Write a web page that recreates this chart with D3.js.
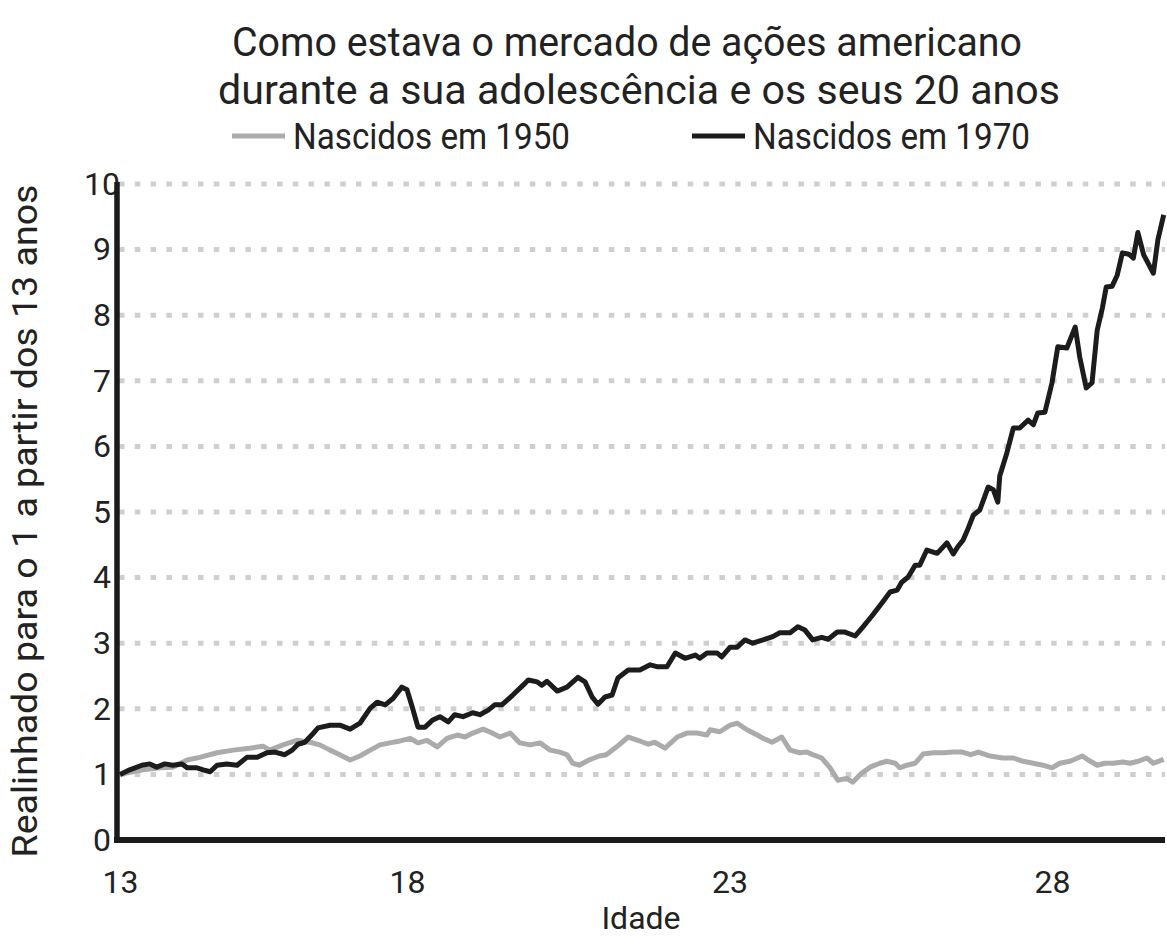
<!DOCTYPE html>
<html>
<head>
<meta charset="utf-8">
<script src="https://cdn.jsdelivr.net/npm/d3@7"></script>
<style>
  body { margin: 0; background: #fff; }
  text { font-family: Roboto, "Noto Sans", sans-serif; fill: #222; }
</style>
</head>
<body>
<div id="chart"></div>
<script>
// text
const titleLines = ["Como estava o mercado de ações americano", "durante a sua adolescência e os seus 20 anos"];
const seriesNames = ["Nascidos em 1950", "Nascidos em 1970"];
const xTitle = "Idade";
const yTitle = "Realinhado para o 1 a partir dos 13 anos";
const yTicks = [0, 1, 2, 3, 4, 5, 6, 7, 8, 9, 10];
const xTicks = [13, 18, 23, 28];

// born 1950 (grey)
const ages1950 = [13.00, 13.40, 13.70, 13.92, 14.17, 14.39, 14.69, 14.97, 15.26, 15.49, 15.61, 15.84, 16.08, 16.31,
  16.48, 16.66, 16.83, 17.01, 17.18, 17.36, 17.53, 17.70, 17.88, 18.05, 18.17, 18.31, 18.47, 18.62, 18.78, 18.90,
  19.02, 19.18, 19.32, 19.44, 19.60, 19.75, 19.91, 20.06, 20.22, 20.37, 20.48, 20.57, 20.67, 20.82, 20.98, 21.09,
  21.25, 21.43, 21.58, 21.74, 21.84, 22.00, 22.19, 22.34, 22.50, 22.65, 22.70, 22.85, 23.01, 23.12, 23.27, 23.43,
  23.52, 23.66, 23.81, 23.94, 24.09, 24.20, 24.29, 24.43, 24.56, 24.68, 24.82, 24.91, 25.05, 25.18, 25.33, 25.44,
  25.57, 25.64, 25.75, 25.88, 26.00, 26.16, 26.32, 26.47, 26.61, 26.74, 26.86, 27.04, 27.24, 27.40, 27.55, 27.71,
  27.86, 28.00, 28.12, 28.28, 28.47, 28.56, 28.70, 28.82, 28.95, 29.10, 29.21, 29.33, 29.47, 29.57, 29.73];
const values1950 = [1.00, 1.07, 1.10, 1.11, 1.22, 1.26, 1.33, 1.37, 1.40, 1.43, 1.37, 1.45, 1.52, 1.49,
  1.45, 1.37, 1.30, 1.22, 1.28, 1.37, 1.45, 1.48, 1.51, 1.55, 1.48, 1.52, 1.42, 1.55, 1.60, 1.57,
  1.63, 1.69, 1.63, 1.57, 1.63, 1.48, 1.45, 1.48, 1.37, 1.34, 1.30, 1.17, 1.14, 1.22, 1.28, 1.30,
  1.42, 1.57, 1.52, 1.46, 1.49, 1.40, 1.57, 1.63, 1.63, 1.60, 1.68, 1.65, 1.75, 1.78, 1.68, 1.60,
  1.55, 1.49, 1.57, 1.37, 1.33, 1.34, 1.30, 1.25, 1.10, 0.91, 0.94, 0.88, 1.02, 1.11, 1.17, 1.20,
  1.17, 1.10, 1.14, 1.17, 1.31, 1.33, 1.33, 1.34, 1.34, 1.30, 1.34, 1.28, 1.25, 1.25, 1.20, 1.17,
  1.14, 1.10, 1.17, 1.20, 1.28, 1.22, 1.14, 1.17, 1.17, 1.19, 1.17, 1.20, 1.25, 1.17, 1.23];

// born 1970 (black)
const ages1970 = [13.00, 13.17, 13.38, 13.52, 13.64, 13.78, 13.92, 14.08, 14.17, 14.34, 14.45, 14.57, 14.69, 14.86,
  15.04, 15.21, 15.39, 15.56, 15.70, 15.87, 16.00, 16.10, 16.22, 16.34, 16.45, 16.66, 16.83, 17.01, 17.18, 17.36,
  17.48, 17.62, 17.76, 17.91, 18.00, 18.08, 18.17, 18.28, 18.40, 18.51, 18.64, 18.74, 18.87, 19.02, 19.13, 19.26,
  19.36, 19.47, 19.64, 19.80, 19.88, 20.02, 20.09, 20.17, 20.33, 20.48, 20.65, 20.76, 20.87, 20.96, 21.07, 21.18,
  21.27, 21.43, 21.61, 21.77, 21.89, 22.03, 22.16, 22.31, 22.47, 22.54, 22.65, 22.81, 22.88, 23.01, 23.12, 23.24,
  23.36, 23.52, 23.67, 23.78, 23.94, 24.06, 24.17, 24.29, 24.43, 24.53, 24.67, 24.79, 24.95, 25.07, 25.22, 25.36,
  25.49, 25.60, 25.67, 25.77, 25.88, 25.95, 26.06, 26.22, 26.37, 26.47, 26.54, 26.62, 26.70, 26.78, 26.88, 27.01,
  27.09, 27.16, 27.19, 27.30, 27.40, 27.50, 27.63, 27.71, 27.78, 27.89, 28.00, 28.09, 28.23, 28.36, 28.43, 28.53,
  28.62, 28.70, 28.78, 28.84, 28.93, 29.01, 29.09, 29.19, 29.26, 29.33, 29.42, 29.57, 29.64, 29.73];
const values1970 = [1.00, 1.07, 1.14, 1.16, 1.11, 1.16, 1.14, 1.16, 1.10, 1.10, 1.07, 1.04, 1.14, 1.16,
  1.14, 1.26, 1.26, 1.33, 1.34, 1.30, 1.37, 1.46, 1.49, 1.60, 1.71, 1.75, 1.75, 1.69, 1.78, 2.01,
  2.10, 2.06, 2.16, 2.33, 2.29, 2.03, 1.72, 1.72, 1.83, 1.88, 1.80, 1.91, 1.88, 1.94, 1.91, 1.98,
  2.06, 2.06, 2.21, 2.36, 2.44, 2.41, 2.36, 2.42, 2.27, 2.33, 2.48, 2.41, 2.18, 2.07, 2.18, 2.21,
  2.47, 2.59, 2.59, 2.67, 2.64, 2.64, 2.85, 2.77, 2.82, 2.77, 2.85, 2.85, 2.79, 2.94, 2.94, 3.05,
  3.00, 3.05, 3.10, 3.16, 3.16, 3.25, 3.20, 3.05, 3.09, 3.06, 3.17, 3.17, 3.11, 3.25, 3.43, 3.61,
  3.78, 3.81, 3.93, 4.01, 4.19, 4.19, 4.42, 4.37, 4.53, 4.36, 4.47, 4.57, 4.75, 4.95, 5.03, 5.38,
  5.34, 5.15, 5.55, 5.90, 6.28, 6.28, 6.40, 6.33, 6.51, 6.52, 6.97, 7.52, 7.50, 7.82, 7.36, 6.89,
  6.97, 7.77, 8.11, 8.43, 8.44, 8.61, 8.95, 8.93, 8.87, 9.26, 8.92, 8.64, 9.15, 9.53];

const width = 1167, height = 937;

const svg = d3.select("#chart").append("svg")
  .attr("width", width)
  .attr("height", height);

// the age axis in the picture is not quite even between 13 and 18
const x = d3.scaleLinear()
  .domain([13, 18, 28, 29.75])
  .range([120, 407, 1052, 1165]);

const y = d3.scaleLinear()
  .domain([0, 10])
  .range([840, 184]);

// dotted grid
svg.append("g")
  .selectAll("line")
  .data(yTicks.filter(d => d > 0))
  .join("line")
  .attr("x1", x.range()[0] - 1)
  .attr("x2", x.range()[3])
  .attr("y1", d => y(d))
  .attr("y2", d => y(d))
  .attr("stroke", "#cfcfcf")
  .attr("stroke-width", 5)
  .attr("stroke-dasharray", "5.5 10.3");

// y labels
const yAxis = svg.append("g")
  .attr("transform", "translate(117,0)")
  .call(d3.axisLeft(y).tickValues(yTicks).tickSize(0).tickFormat(d3.format("d")));
yAxis.select(".domain").remove();
yAxis.selectAll("text")
  .attr("x", -15)
  .attr("text-anchor", "middle")
  .style("font-size", "32px")
  .style("font-family", "Roboto, sans-serif")
  .attr("fill", "#222");

// x labels
const xAxis = svg.append("g")
  .attr("transform", "translate(0,840)")
  .call(d3.axisBottom(x).tickValues(xTicks).tickSize(0).tickFormat(d3.format("d")));
xAxis.select(".domain").remove();
xAxis.selectAll("text")
  .attr("y", 0)
  .attr("dy", 53)
  .style("font-size", "32px")
  .style("font-family", "Roboto, sans-serif")
  .attr("fill", "#222");

// lines
const line = d3.line()
  .x(d => x(d[0]))
  .y(d => y(d[1]))
  .curve(d3.curveLinear);

svg.append("path")
  .datum(d3.zip(ages1950, values1950))
  .attr("d", line)
  .attr("fill", "none")
  .attr("stroke", "#ababab")
  .attr("stroke-width", 5)
  .attr("stroke-linejoin", "round");

svg.append("path")
  .datum(d3.zip(ages1970, values1970))
  .attr("d", line)
  .attr("fill", "none")
  .attr("stroke", "#1c1c1c")
  .attr("stroke-width", 5)
  .attr("stroke-linejoin", "round");

// axis lines
svg.append("line")
  .attr("x1", 117).attr("x2", 117)
  .attr("y1", y(10) - 2).attr("y2", y(0) + 3)
  .attr("stroke", "#1a1a1a").attr("stroke-width", 5.5);
svg.append("line")
  .attr("x1", 114).attr("x2", x.range()[3])
  .attr("y1", y(0)).attr("y2", y(0))
  .attr("stroke", "#1a1a1a").attr("stroke-width", 6);

// titles
svg.append("g")
  .selectAll("text")
  .data(titleLines)
  .join("text")
  .attr("x", (d, i) => i === 0 ? 627 : 639)
  .attr("y", (d, i) => 56 + i * 48)
  .attr("text-anchor", "middle")
  .attr("textLength", (d, i) => i === 0 ? 790 : 842)
  .attr("lengthAdjust", "spacingAndGlyphs")
  .style("font-size", "41px")
  .text(d => d);

// legend
const legendX = [232, 692];
const legendColors = ["#ababab", "#1c1c1c"];
const legend = svg.append("g")
  .selectAll("g")
  .data(seriesNames)
  .join("g")
  .attr("transform", (d, i) => `translate(${legendX[i]},136)`);
legend.append("line")
  .attr("x1", 0).attr("x2", 53)
  .attr("stroke", (d, i) => legendColors[i])
  .attr("stroke-width", 5);
legend.append("text")
  .attr("x", 61)
  .attr("y", 13)
  .attr("textLength", 277)
  .attr("lengthAdjust", "spacingAndGlyphs")
  .style("font-size", "36px")
  .text(d => d);

// axis titles
svg.append("text")
  .attr("x", 641)
  .attr("y", 929)
  .attr("text-anchor", "middle")
  .style("font-size", "32px")
  .text(xTitle);

svg.append("text")
  .attr("transform", "translate(37,521) rotate(-90)")
  .attr("text-anchor", "middle")
  .attr("textLength", 673)
  .attr("lengthAdjust", "spacingAndGlyphs")
  .style("font-size", "35px")
  .text(yTitle);
</script>
</body>
</html>
